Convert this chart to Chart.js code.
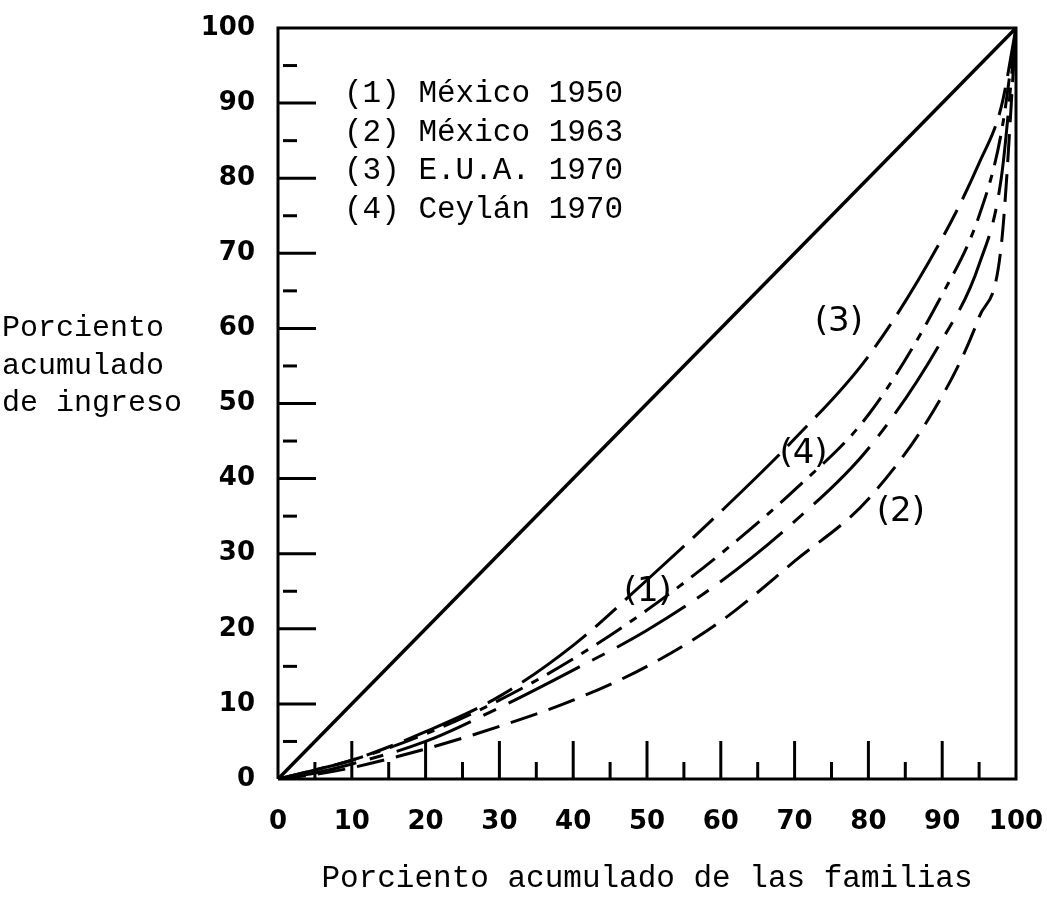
<!DOCTYPE html>
<html>
<head>
<meta charset="utf-8">
<script src="https://cdn.jsdelivr.net/npm/chart.js@4.4.0/dist/chart.umd.min.js"></script>
<style>
html,body{margin:0;padding:0;background:#fff;}
#wrap{width:1047px;height:897px;}
</style>
</head>
<body>
<div id="wrap"><canvas id="c" width="1047" height="897"></canvas></div>
<script>
// Cumulative % of families (x) shared by all curves
const familiesPct = [0, 5, 10, 20, 30, 40, 50, 60, 70, 80, 90, 95, 98, 100];
// Cumulative % of income (y)
const mexico1950 = [0, 0.8, 2, 5, 9.5, 14.5, 19.8, 26.3, 34.3, 44, 58.5, 68.5, 80, 100];
const mexico1963 = [0, 0.6, 1.5, 4, 7, 10.5, 15, 21, 29, 37.3, 51, 61.5, 71, 100];
const eua1970    = [0, 1.2, 2.5, 6.3, 11, 17.8, 26.5, 35.6, 45.3, 56.3, 72, 82, 89.5, 100];
const ceylan1970 = [0, 1.2, 2.5, 6, 10.5, 16, 22.5, 30, 38.5, 48.5, 64.5, 75, 86, 100];
const equalityX = [0, 100];
const equalityY = [0, 100];

const legendLines = ['(1) México 1950', '(2) México 1963', '(3) E.U.A. 1970', '(4) Ceylán 1970'];
const curveTags = ['(1)', '(2)', '(3)', '(4)'];
const curveTagX = [50.1, 84.4, 76, 71.2];
const curveTagY = [24.9, 35.5, 60.8, 43.3];
const yTitleLines = ['Porciento', 'acumulado', 'de ingreso'];
const xTitle = 'Porciento acumulado de las familias';

const toPts = (xs, ys) => xs.map((x, i) => ({x: x, y: ys[i]}));

const MONO = '"Liberation Mono", "Courier New", monospace';
const SANS = '"DejaVu Sans", sans-serif';

const decor = {
  id: 'decor',
  afterDraw(chart) {
    const {ctx, chartArea: a, scales: {x, y}} = chart;
    ctx.save();
    ctx.strokeStyle = '#000';
    ctx.fillStyle = '#000';
    ctx.lineCap = 'butt';
    // frame
    ctx.lineWidth = 3;
    ctx.beginPath();
    ctx.moveTo(a.left, a.bottom); ctx.lineTo(a.left, a.top);
    ctx.lineTo(a.right, a.top); ctx.lineTo(a.right, a.bottom);
    ctx.lineTo(a.left, a.bottom);
    ctx.stroke();
    // inward ticks
    for (let v = 5; v < 100; v += 5) {
      const major = v % 10 === 0;
      const py = y.getPixelForValue(v);
      ctx.beginPath();
      if (major) { ctx.moveTo(a.left, py); ctx.lineTo(a.left + 38, py); }
      else { ctx.moveTo(a.left + 5, py); ctx.lineTo(a.left + 19, py); }
      ctx.stroke();
      const px = x.getPixelForValue(v);
      ctx.beginPath();
      ctx.moveTo(px, a.bottom);
      ctx.lineTo(px, a.bottom - (major ? 38 : 17));
      ctx.stroke();
    }
    // legend (text only)
    ctx.font = '31px ' + MONO;
    ctx.textAlign = 'left';
    ctx.textBaseline = 'middle';
    legendLines.forEach((t, i) => {
      ctx.fillText(t, a.left + 66, a.top + 66 + i * 38.5);
    });
    // curve tags
    ctx.font = '34px ' + SANS;
    ctx.textAlign = 'center';
    curveTags.forEach((t, i) => {
      ctx.fillText(t, x.getPixelForValue(curveTagX[i]), y.getPixelForValue(curveTagY[i]));
    });
    // y title (horizontal, three lines)
    ctx.font = '30px ' + MONO;
    ctx.textAlign = 'left';
    yTitleLines.forEach((t, i) => {
      ctx.fillText(t, 2, y.getPixelForValue(60) + i * 37.5);
    });
    ctx.restore();
  }
};

new Chart(document.getElementById('c'), {
  type: 'line',
  data: {
    datasets: [
      {label: 'Igualdad', data: toPts(equalityX, equalityY), borderColor: '#000', borderWidth: 3.5, pointRadius: 0, tension: 0},
      {label: legendLines[0], data: toPts(familiesPct, mexico1950), borderColor: '#000', borderWidth: 3, pointRadius: 0, cubicInterpolationMode: 'monotone', borderDash: [80, 14, 14, 14]},
      {label: legendLines[1], data: toPts(familiesPct, mexico1963), borderColor: '#000', borderWidth: 3, pointRadius: 0, cubicInterpolationMode: 'monotone', borderDash: [28, 12]},
      {label: legendLines[2], data: toPts(familiesPct, eua1970), borderColor: '#000', borderWidth: 3, pointRadius: 0, cubicInterpolationMode: 'monotone', borderDash: [80, 12, 28, 12]},
      {label: legendLines[3], data: toPts(familiesPct, ceylan1970), borderColor: '#000', borderWidth: 3, pointRadius: 0, cubicInterpolationMode: 'monotone', borderDash: [30, 10, 8, 10]}
    ]
  },
  options: {
    responsive: false,
    animation: false,
    devicePixelRatio: 1,
    layout: {padding: {left: 0, right: 31, top: 28, bottom: 0}},
    plugins: {legend: {display: false}, tooltip: {enabled: false}},
    scales: {
      x: {
        type: 'linear', min: 0, max: 100,
        afterFit: s => { s.height = 118; s.paddingLeft = 0; s.paddingRight = 0; },
        grid: {display: false},
        border: {display: false},
        ticks: {stepSize: 10, color: '#000', padding: 20, font: {family: SANS, size: 26, weight: 'bold'}, maxRotation: 0, autoSkip: false},
        title: {display: true, text: xTitle, color: '#000', padding: 0, font: {family: MONO, size: 31}}
      },
      y: {
        type: 'linear', min: 0, max: 100,
        afterFit: s => { s.width = 278; s.paddingTop = 0; s.paddingBottom = 0; },
        grid: {display: false},
        border: {display: false},
        ticks: {stepSize: 10, color: '#000', padding: 15, font: {family: SANS, size: 26, weight: 'bold'}, autoSkip: false}
      }
    }
  },
  plugins: [decor]
});
</script>
</body>
</html>
